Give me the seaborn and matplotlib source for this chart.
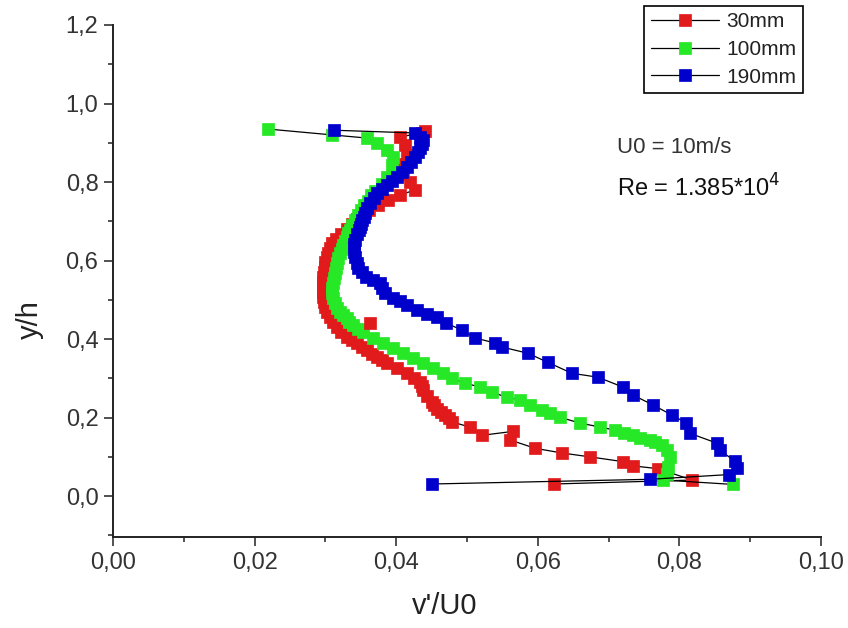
import matplotlib
matplotlib.use("Agg")
import matplotlib.pyplot as plt
import seaborn as sns
import pandas as pd
from matplotlib.ticker import FuncFormatter, MultipleLocator

# ---- data ----
series_names = ["30mm", "100mm", "190mm"]

red_y = [0.031, 0.041, 0.070, 0.077, 0.088, 0.100, 0.110, 0.122, 0.143, 0.165, 0.155,
         0.176, 0.189, 0.198, 0.206, 0.214, 0.222, 0.231, 0.240, 0.255, 0.270, 0.280,
         0.290, 0.302, 0.313, 0.326, 0.339, 0.346, 0.354, 0.363, 0.372, 0.381, 0.390,
         0.398, 0.405, 0.418, 0.430, 0.443, 0.456, 0.469, 0.482, 0.495, 0.507, 0.520,
         0.532, 0.545, 0.558, 0.570, 0.583, 0.596, 0.609, 0.620, 0.632, 0.644, 0.655,
         0.668, 0.680, 0.693, 0.705, 0.718, 0.730, 0.742, 0.754, 0.767, 0.780, 0.800,
         0.820, 0.845, 0.870, 0.895, 0.915, 0.925, 0.930]
red_v = [0.0623, 0.0818, 0.0770, 0.0735, 0.0720, 0.0674, 0.0634, 0.0596, 0.0561, 0.0565, 0.0521,
         0.0504, 0.0479, 0.0474, 0.0469, 0.0463, 0.0458, 0.0453, 0.0450, 0.0443, 0.0438, 0.0437,
         0.0434, 0.0425, 0.0415, 0.0401, 0.0387, 0.0380, 0.0373, 0.0366, 0.0359, 0.0352, 0.0345,
         0.0337, 0.0330, 0.0322, 0.0316, 0.0311, 0.0306, 0.0302, 0.0299, 0.0298, 0.0297, 0.0297,
         0.0297, 0.0297, 0.0297, 0.0298, 0.0299, 0.0300, 0.0302, 0.0304, 0.0306, 0.0310, 0.0315,
         0.0322, 0.0330, 0.0337, 0.0345, 0.0353, 0.0362, 0.0374, 0.0388, 0.0405, 0.0427, 0.0420,
         0.0410, 0.0405, 0.0415, 0.0412, 0.0405, 0.0436, 0.0440]
red_extra_y = [0.441]
red_extra_v = [0.0363]

green_y = [0.030, 0.041, 0.057, 0.074, 0.100, 0.117, 0.130, 0.138, 0.143, 0.148, 0.155,
           0.162, 0.168, 0.176, 0.186, 0.201, 0.211, 0.219, 0.232, 0.245, 0.252, 0.265,
           0.278, 0.288, 0.300, 0.313, 0.326, 0.339, 0.352, 0.364, 0.377, 0.390, 0.402,
           0.418, 0.426, 0.436, 0.444, 0.453, 0.461, 0.469, 0.480, 0.492, 0.505, 0.517,
           0.530, 0.543, 0.555, 0.568, 0.581, 0.594, 0.607, 0.619, 0.630, 0.640, 0.650,
           0.660, 0.669, 0.678, 0.690, 0.703, 0.716, 0.728, 0.741, 0.753, 0.766, 0.778,
           0.795, 0.813, 0.843, 0.864, 0.882, 0.899, 0.912, 0.920, 0.935]
green_v = [0.0875, 0.0777, 0.0782, 0.0784, 0.0787, 0.0782, 0.0775, 0.0765, 0.0758, 0.0745, 0.0735,
           0.0722, 0.0709, 0.0688, 0.0660, 0.0631, 0.0617, 0.0606, 0.0589, 0.0575, 0.0556, 0.0535,
           0.0518, 0.0497, 0.0479, 0.0466, 0.0452, 0.0438, 0.0424, 0.0410, 0.0395, 0.0381, 0.0367,
           0.0353, 0.0346, 0.0339, 0.0334, 0.0330, 0.0325, 0.0321, 0.0317, 0.0314, 0.0311, 0.0309,
           0.0310, 0.0311, 0.0312, 0.0314, 0.0315, 0.0316, 0.0318, 0.0321, 0.0323, 0.0325, 0.0327,
           0.0330, 0.0332, 0.0335, 0.0338, 0.0342, 0.0346, 0.0350, 0.0355, 0.0360, 0.0365, 0.0370,
           0.0380, 0.0387, 0.0394, 0.0396, 0.0387, 0.0373, 0.0359, 0.0310, 0.0219]

blue_y = [0.031, 0.043, 0.055, 0.071, 0.090, 0.117, 0.135, 0.160, 0.186, 0.206, 0.232,
          0.257, 0.278, 0.303, 0.313, 0.341, 0.364, 0.380, 0.390, 0.403, 0.423, 0.441,
          0.456, 0.465, 0.474, 0.487, 0.496, 0.504, 0.517, 0.530, 0.543, 0.550, 0.558,
          0.570, 0.581, 0.595, 0.609, 0.622, 0.634, 0.643, 0.652, 0.668, 0.677, 0.685,
          0.694, 0.703, 0.712, 0.721, 0.734, 0.746, 0.759, 0.772, 0.782, 0.792, 0.802,
          0.813, 0.826, 0.838, 0.851, 0.864, 0.876, 0.887, 0.897, 0.907, 0.916, 0.925,
          0.932]
blue_v = [0.0451, 0.0759, 0.0870, 0.0881, 0.0878, 0.0857, 0.0853, 0.0815, 0.0810, 0.0790, 0.0763,
          0.0735, 0.0720, 0.0685, 0.0648, 0.0614, 0.0586, 0.0549, 0.0540, 0.0511, 0.0493, 0.0470,
          0.0458, 0.0444, 0.0430, 0.0415, 0.0405, 0.0396, 0.0384, 0.0380, 0.0377, 0.0367, 0.0358,
          0.0352, 0.0346, 0.0344, 0.0342, 0.0341, 0.0340, 0.0341, 0.0342, 0.0345, 0.0347, 0.0349,
          0.0350, 0.0352, 0.0354, 0.0356, 0.0359, 0.0363, 0.0368, 0.0373, 0.0380, 0.0387, 0.0394,
          0.0401, 0.0408, 0.0415, 0.0421, 0.0427, 0.0431, 0.0434, 0.0436, 0.0438, 0.0434, 0.0427,
          0.0312]

x_ticks = [0.00, 0.02, 0.04, 0.06, 0.08, 0.10]
y_ticks = [0.0, 0.2, 0.4, 0.6, 0.8, 1.0, 1.2]

colors = ["#e11b1b", "#26e826", "#0000cc"]

# ---- plotting ----
sns.set_style("ticks")
plt.rcParams["font.family"] = ["Liberation Sans", "DejaVu Sans"]

fig = plt.figure(figsize=(8.48, 6.28), dpi=100)
ax = fig.add_axes([113 / 848, 1 - 537 / 628, (821 - 113) / 848, (537 - 25) / 628])

data = [(red_v, red_y), (green_v, green_y), (blue_v, blue_y)]
msize = 8
for (vv, yy), name, c in zip(data, series_names, colors):
    df = pd.DataFrame({"v": vv, "y": yy})
    sns.lineplot(data=df, x="v", y="y", sort=False, estimator=None, ax=ax,
                 color="black", linewidth=0.9, marker="s", markersize=msize,
                 markerfacecolor=c, markeredgecolor=c, markeredgewidth=0.5,
                 label=name)

# isolated red point (not joined by the line)
sns.scatterplot(x=red_extra_v, y=red_extra_y, ax=ax, marker="s", s=msize ** 2,
                color=colors[0], edgecolor=colors[0], linewidth=0.5, legend=False,
                zorder=3)

ax.set_xlim(0.0, 0.10)
ax.set_ylim(-0.104, 1.2)
ax.set_xticks(x_ticks)
ax.set_yticks(y_ticks)
ax.xaxis.set_minor_locator(MultipleLocator(0.01))
ax.yaxis.set_minor_locator(MultipleLocator(0.1))
ax.xaxis.set_major_formatter(FuncFormatter(lambda v, p: f"{v:.2f}".replace(".", ",")))
ax.yaxis.set_major_formatter(FuncFormatter(lambda v, p: f"{v:.1f}".replace(".", ",")))

for s in ["top", "right"]:
    ax.spines[s].set_visible(False)
for s in ["left", "bottom"]:
    ax.spines[s].set_linewidth(1.4)
    ax.spines[s].set_color("#222222")

ax.tick_params(axis="both", which="major", direction="out", length=6.5, width=1.1,
               labelsize=17, pad=4, colors="#222222", labelcolor="#333333")
ax.tick_params(axis="both", which="minor", direction="out", length=3.8, width=1.1,
               colors="#222222")

ax.set_xlabel("v'/U0", fontsize=21, color="#222222")
ax.set_ylabel("y/h", fontsize=21, color="#222222")
ax.xaxis.set_label_coords((445 - 113) / 708, (537 - 592) / 512)
ax.yaxis.set_label_coords((44 - 113) / 708, (537 - 320) / 512)

leg = ax.legend(loc="upper right", bbox_to_anchor=(803 / 848, 1 - 6 / 628),
                bbox_transform=fig.transFigure, frameon=True, fancybox=False,
                fontsize=15, handlelength=3.3, handletextpad=0.35, labelspacing=0.42,
                borderpad=0.3, borderaxespad=0, numpoints=1)
leg.get_frame().set_edgecolor("black")
leg.get_frame().set_linewidth(1.2)
leg.get_frame().set_alpha(1)
for t in leg.get_texts():
    t.set_color("#222222")

fig.text(617 / 848, 1 - 148 / 628, "U0 = 10m/s", fontsize=16, color="#333333",
         va="center", ha="left")
fig.text(617 / 848, 1 - 188 / 628, r"Re = 1.385*10$^{4}$", fontsize=17, color="#111111",
         va="center", ha="left")

fig.savefig("out.png", dpi=100)
